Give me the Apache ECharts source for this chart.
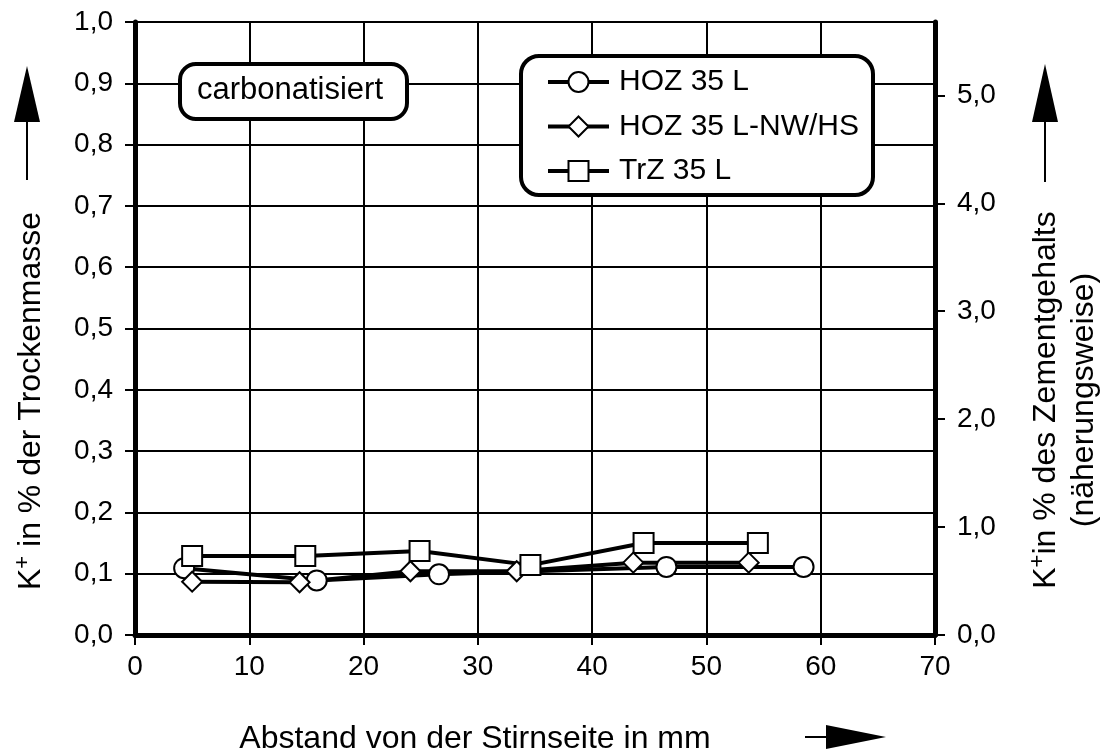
<!DOCTYPE html>
<html>
<head>
<meta charset="utf-8">
<script src="https://cdn.jsdelivr.net/npm/echarts@6/dist/echarts.min.js"></script>
<style>
  html, body { margin: 0; padding: 0; background: #fff; }
  #chart { width: 1104px; height: 756px; }
</style>
</head>
<body>
<div id="chart"></div>
<script>
var hozX = [4.3, 15.9, 26.6, 46.5, 58.5];
var hozY = [0.109, 0.089, 0.099, 0.111, 0.111];
var nwX = [5.0, 14.4, 24.1, 33.4, 43.6, 53.7];
var nwY = [0.087, 0.086, 0.104, 0.104, 0.118, 0.118];
var trzX = [5.0, 14.9, 24.9, 34.6, 44.5, 54.5];
var trzY = [0.129, 0.129, 0.137, 0.114, 0.150, 0.150];
var seriesNames = ["HOZ 35 L", "HOZ 35 L-NW/HS", "TrZ 35 L"];

var FONT = "Liberation Sans, Arial, sans-serif";

function pairs(xs, ys) {
    var out = [];
    for (var i = 0; i < xs.length; i++) {
        out.push([xs[i], ys[i]]);
    }
    return out;
}

function komma(v) {
    return v.toFixed(1).replace(".", ",");
}

function makeSeries(name, data, symbol) {
    return {
        name: name,
        type: "line",
        data: data,
        symbol: symbol,
        symbolSize: 20,
        lineStyle: { color: "#000", width: 4 },
        itemStyle: { color: "#fff", borderColor: "#000", borderWidth: 2 },
        z: 5
    };
}

var myChart = echarts.init(document.getElementById("chart"));

var option = {
    animation: false,
    backgroundColor: "#fff",
    grid: { left: 135, right: 169, top: 22, bottom: 121 },
    xAxis: {
        type: "value",
        min: 0, max: 70, interval: 10,
        axisLine: { lineStyle: { color: "#000", width: 5 } },
        axisTick: { length: 10, lineStyle: { color: "#000", width: 2 } },
        splitLine: { lineStyle: { color: "#000", width: 2 } },
        axisLabel: { color: "#000", fontSize: 28, fontFamily: FONT, margin: 18 }
    },
    yAxis: [{
        type: "value",
        min: 0, max: 1, interval: 0.1,
        axisLine: { show: true, lineStyle: { color: "#000", width: 5 } },
        axisTick: { show: true, length: 10, lineStyle: { color: "#000", width: 2 } },
        splitLine: { lineStyle: { color: "#000", width: 2 } },
        axisLabel: { color: "#000", fontSize: 28, fontFamily: FONT, margin: 22,
            formatter: function (v) { return komma(v); } }
    }, {
        type: "value",
        position: "right",
        min: 0, max: 5.68, interval: 1,
        axisLine: { show: true, lineStyle: { color: "#000", width: 5 } },
        axisTick: { show: true, length: 10, lineStyle: { color: "#000", width: 2 } },
        splitLine: { show: false },
        axisLabel: { color: "#000", fontSize: 28, fontFamily: FONT, margin: 22, showMaxLabel: false,
            formatter: function (v) { return v > 5.5 ? "" : komma(v); } }
    }],
    legend: {
        orient: "vertical",
        left: 541, top: 62,
        itemWidth: 61, itemHeight: 25, itemGap: 14.5,
        data: seriesNames,
        lineStyle: { width: 4, color: "#000" },
        textStyle: { color: "#000", fontSize: 30, fontFamily: FONT, lineHeight: 25, padding: [0, 0, 0, 5] }
    },
    series: [
        makeSeries(seriesNames[0], pairs(hozX, hozY), "circle"),
        makeSeries(seriesNames[1], pairs(nwX, nwY), "diamond"),
        makeSeries(seriesNames[2], pairs(trzX, trzY), "rect")
    ],
    graphic: [
        // Box "carbonatisiert"
        { type: "rect", left: 178, top: 62, z: 10,
          shape: { width: 227, height: 55, r: 16 },
          style: { fill: "#fff", stroke: "#000", lineWidth: 4 } },
        { type: "text", x: 290, y: 90, z: 11,
          style: { text: "carbonatisiert", fill: "#000", font: "31px " + FONT, align: "center", verticalAlign: "middle" } },
        // Legendenrahmen
        { type: "rect", left: 519, top: 54, z: 3,
          shape: { width: 352, height: 139, r: 18 },
          style: { fill: "#fff", stroke: "#000", lineWidth: 4 } },
        // linke Achsenbeschriftung
        { type: "text", x: 31, y: 401, rotation: Math.PI / 2,
          style: { text: "{a|K}{s|+}{a| in % der Trockenmasse}", align: "center", verticalAlign: "middle",
            rich: { a: { fontSize: 32, fontFamily: FONT, fill: "#000" },
                    s: { fontSize: 22, fontFamily: FONT, fill: "#000", padding: [0, 0, 16, 0] } } } },
        { type: "line", shape: { x1: 27, y1: 118, x2: 27, y2: 180 }, style: { stroke: "#000", lineWidth: 2 } },
        { type: "polygon", shape: { points: [[27, 66], [14, 122], [40, 122]] }, style: { fill: "#000" } },
        // rechte Achsenbeschriftung
        { type: "text", x: 1046, y: 400, rotation: Math.PI / 2,
          style: { text: "{a|K}{s|+}{a|in % des Zementgehalts}", align: "center", verticalAlign: "middle",
            rich: { a: { fontSize: 32, fontFamily: FONT, fill: "#000" },
                    s: { fontSize: 22, fontFamily: FONT, fill: "#000", padding: [0, 0, 16, 0] } } } },
        { type: "text", x: 1084, y: 400, rotation: Math.PI / 2,
          style: { text: "(näherungsweise)", fill: "#000", font: "32px " + FONT, align: "center", verticalAlign: "middle" } },
        { type: "line", shape: { x1: 1045, y1: 118, x2: 1045, y2: 182 }, style: { stroke: "#000", lineWidth: 2 } },
        { type: "polygon", shape: { points: [[1045, 64], [1032, 122], [1058, 122]] }, style: { fill: "#000" } },
        // x-Achsenbeschriftung
        { type: "text", x: 475, y: 739,
          style: { text: "Abstand von der Stirnseite in mm", fill: "#000", font: "32px " + FONT, align: "center", verticalAlign: "middle" } },
        { type: "line", shape: { x1: 805, y1: 737, x2: 850, y2: 737 }, style: { stroke: "#000", lineWidth: 2 } },
        { type: "polygon", shape: { points: [[886, 737], [826, 725], [826, 749]] }, style: { fill: "#000" } }
    ]
};

myChart.setOption(option);
</script>
</body>
</html>
